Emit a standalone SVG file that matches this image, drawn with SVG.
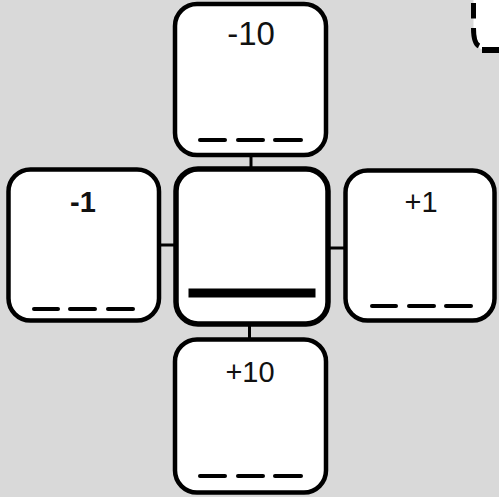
<svg xmlns="http://www.w3.org/2000/svg" width="499" height="497" viewBox="0 0 499 497">
  <style>
    .box { fill: #ffffff; stroke: #000000; stroke-width: 4.5; }
    .center { stroke-width: 5.5; }
    .dash { stroke: #000000; stroke-width: 4; stroke-linecap: round; fill: none; }
    .conn { stroke: #000000; stroke-width: 3; fill: none; }
    .lbl { font-family: "Liberation Sans", Arial, sans-serif; font-size: 29px; fill: #111111; text-anchor: middle; }
  </style>
  <rect x="0" y="0" width="499" height="497" fill="#d9d9d9"/>

  <g id="partial-top-right">
    <path d="M473.5,-10 V34 C473.5,42 476,47 483,50 H505 V-10 Z" fill="#ffffff"/>
    <path d="M473.5,3 V18.5" stroke="#000" stroke-width="5" fill="none"/>
    <path d="M473.5,28 C473.5,38 475,44 479,46" stroke="#000" stroke-width="5" fill="none"/>
    <path d="M482,50 H505" stroke="#000" stroke-width="6" fill="none"/>
  </g>

  <g id="connectors">
    <line class="conn" x1="251" y1="155" x2="251" y2="169"/>
    <line class="conn" x1="249.5" y1="324" x2="249.5" y2="339"/>
    <line class="conn" x1="159" y1="245" x2="176" y2="245"/>
    <line class="conn" x1="328" y1="248" x2="345" y2="248"/>
  </g>

  <g id="node-top">
    <rect class="box" x="175" y="4" width="151" height="151" rx="22"/>
    <text class="lbl" x="251" y="45" style="font-size:33px">-10</text>
    <line class="dash" x1="200" y1="140" x2="225" y2="140"/>
    <line class="dash" x1="238" y1="140" x2="263" y2="140"/>
    <line class="dash" x1="275" y1="140" x2="301" y2="140"/>
  </g>

  <g id="node-left">
    <rect class="box" x="8.5" y="169.5" width="150.5" height="151" rx="22"/>
    <text class="lbl" x="83" y="212" style="font-weight:bold">-1</text>
    <line class="dash" x1="34" y1="309" x2="58" y2="309"/>
    <line class="dash" x1="70" y1="309" x2="95" y2="309"/>
    <line class="dash" x1="108" y1="309" x2="133" y2="309"/>
  </g>

  <g id="node-center">
    <rect class="box center" x="176" y="169" width="152" height="155" rx="22"/>
    <rect x="188.5" y="288.5" width="127" height="9" fill="#000000"/>
  </g>

  <g id="node-right">
    <rect class="box" x="345.5" y="170.5" width="149" height="150" rx="22"/>
    <text class="lbl" x="421" y="212">+1</text>
    <line class="dash" x1="372" y1="306" x2="396" y2="306"/>
    <line class="dash" x1="409" y1="306" x2="434" y2="306"/>
    <line class="dash" x1="446" y1="306" x2="471" y2="306"/>
  </g>

  <g id="node-bottom">
    <rect class="box" x="175" y="339.5" width="151" height="153" rx="22"/>
    <text class="lbl" x="250" y="382">+10</text>
    <line class="dash" x1="200" y1="476" x2="225" y2="476"/>
    <line class="dash" x1="238" y1="476" x2="263" y2="476"/>
    <line class="dash" x1="275" y1="476" x2="301" y2="476"/>
  </g>
</svg>
